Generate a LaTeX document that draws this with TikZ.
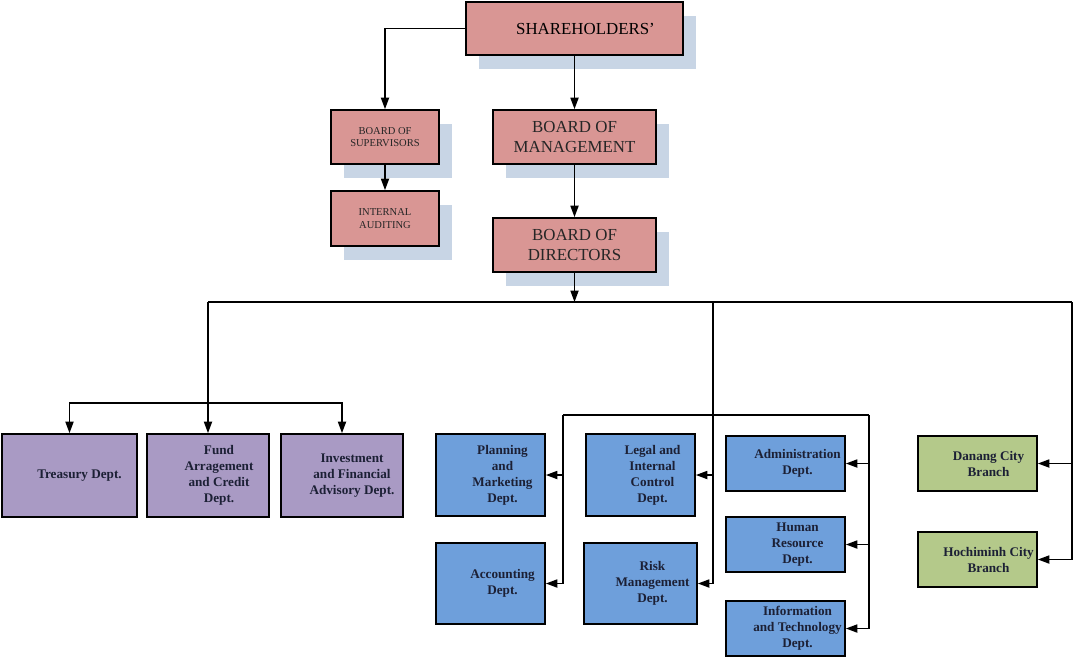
\documentclass[tikz,border=0pt]{standalone}
\usepackage{fontspec}
\setmainfont{Liberation Serif}
\usetikzlibrary{arrows.meta,shadows}
\definecolor{boardred}{HTML}{D99694}
\definecolor{shadeblue}{HTML}{C8D5E5}
\definecolor{deptpurple}{HTML}{A99AC4}
\definecolor{deptblue}{HTML}{6E9FDB}
\definecolor{branchgreen}{HTML}{B4C98A}
\definecolor{deptink}{HTML}{1C2035}
\tikzset{
  board/.style = {draw, line width=1pt, fill=boardred, inner sep=0pt, align=center,
    text=black!85, drop shadow={fill=shadeblue, opacity=1, shadow xshift=0.26cm, shadow yshift=-0.27cm}},
  bigtext/.style = {font=\fontsize{9.6}{11.5}\selectfont},
  smalltext/.style = {font=\fontsize{6}{7.2}\selectfont},
  dept/.style = {draw, line width=1pt, inner sep=0pt},
  depttext/.style = {align=center, text=deptink, font=\bfseries\fontsize{7.5}{9.1}\selectfont},
  arr/.style = {line width=0.85pt, -{Triangle[length=6.5pt,width=4.6pt]}},
  link/.style = {line width=0.85pt}
}
\begin{document}
\begin{tikzpicture}[x=0.02cm, y=-0.02cm]
\useasboundingbox (0,0) rectangle (1074,657);
% top of the chart
\node (share) at (574.5,28.5) [board, minimum width=4.34cm, minimum height=1.06cm] {};
\node (share-t) at ([xshift=0.22cm]share.center) [bigtext] {SHAREHOLDERS’};
\node (bos) at (385,137) [board, smalltext, minimum width=2.16cm, minimum height=1.08cm] {BOARD OF\\SUPERVISORS};
\node (audit) at (385,218.5) [board, smalltext, minimum width=2.16cm, minimum height=1.1cm] {INTERNAL\\AUDITING};
\node (bom) at (574.5,137) [board, bigtext, minimum width=3.26cm, minimum height=1.08cm] {BOARD OF\\MANAGEMENT};
\node (bod) at (574.5,245) [board, bigtext, minimum width=3.26cm, minimum height=1.08cm] {BOARD OF\\DIRECTORS};
\draw[arr] (share.west) -| (bos.north);
\draw[arr] (share.south) -- (bom.north);
\draw[arr] (bos.south) -- (audit.north);
\draw[arr] (bom.south) -- (bod.north);
% trunk line
\coordinate (trunk) at (574.5,302);
\coordinate (tl) at (208,302);
\coordinate (mb) at (713,302);
\coordinate (tr) at (1072,302);
\draw[arr] (bod.south) -- (trunk);
\draw[link] (tl) -- (tr);
% purple depts
\node (treas) at (69.5,475.5) [dept, fill=deptpurple, minimum width=2.7cm, minimum height=1.66cm] {};
\node (treas-t) at ([xshift=0.2cm]treas.center) [depttext] {Treasury Dept.};
\node (fund) at (208,475.5) [dept, fill=deptpurple, minimum width=2.44cm, minimum height=1.66cm] {};
\node (fund-t) at ([xshift=0.22cm]fund.center) [depttext] {Fund\\Arragement\\and Credit\\Dept.};
\node (invest) at (342,475.5) [dept, fill=deptpurple, minimum width=2.44cm, minimum height=1.66cm] {};
\node (invest-t) at ([xshift=0.2cm]invest.center) [depttext] {Investment\\and Financial\\Advisory Dept.};
\coordinate (pbar) at (208,403);
\draw[arr] (tl) -- (fund.north);
\draw[arr] (pbar) -| (treas.north);
\draw[arr] (pbar) -| (invest.north);
% blue depts
\node (plan) at (490.5,475) [dept, fill=deptblue, minimum width=2.18cm, minimum height=1.64cm] {};
\node (plan-t) at ([xshift=0.24cm]plan.center) [depttext] {Planning\\and\\Marketing\\Dept.};
\node (acct) at (490.5,583.5) [dept, fill=deptblue, minimum width=2.18cm, minimum height=1.62cm] {};
\node (acct-t) at ([xshift=0.24cm]acct.center) [depttext] {Accounting\\Dept.};
\node (legal) at (640.5,475) [dept, fill=deptblue, minimum width=2.18cm, minimum height=1.64cm] {};
\node (legal-t) at ([xshift=0.24cm]legal.center) [depttext] {Legal and\\Internal\\Control\\Dept.};
\node (risk) at (640.5,583.5) [dept, fill=deptblue, minimum width=2.26cm, minimum height=1.62cm] {};
\node (risk-t) at ([xshift=0.24cm]risk.center) [depttext] {Risk\\Management\\Dept.};
\node (admin) at (785.5,463.5) [dept, fill=deptblue, minimum width=2.38cm, minimum height=1.1cm] {};
\node (admin-t) at ([xshift=0.24cm]admin.center) [depttext] {Administration\\Dept.};
\node (hr) at (785.5,544.5) [dept, fill=deptblue, minimum width=2.38cm, minimum height=1.1cm] {};
\node (hr-t) at ([xshift=0.24cm]hr.center) [depttext] {Human\\Resource\\Dept.};
\node (it) at (785.5,628.5) [dept, fill=deptblue, minimum width=2.38cm, minimum height=1.1cm] {};
\node (it-t) at ([xshift=0.24cm]it.center) [depttext] {Information\\and Technology\\Dept.};
\coordinate (cbl) at (563,415);
\coordinate (cbr) at (869,415);
\draw[arr] (mb) |- (risk.east);
\draw[arr] (mb |- legal.east) -- (legal.east);
\draw[link] (cbl) -- (cbr);
\draw[arr] (cbl) |- (acct.east);
\draw[arr] (cbl |- plan.east) -- (plan.east);
\draw[arr] (cbr) |- (it.east);
\draw[arr] (cbr |- admin.east) -- (admin.east);
\draw[arr] (cbr |- hr.east) -- (hr.east);
% branches
\node (danang) at (977.5,463.5) [dept, fill=branchgreen, minimum width=2.38cm, minimum height=1.1cm] {};
\node (danang-t) at ([xshift=0.22cm]danang.center) [depttext] {Danang City\\Branch};
\node (hcm) at (977.5,559.5) [dept, fill=branchgreen, minimum width=2.38cm, minimum height=1.1cm] {};
\node (hcm-t) at ([xshift=0.22cm]hcm.center) [depttext] {Hochiminh City\\Branch};
\draw[arr] (tr) |- (hcm.east);
\draw[arr] (tr |- danang.east) -- (danang.east);
\end{tikzpicture}
\end{document}
